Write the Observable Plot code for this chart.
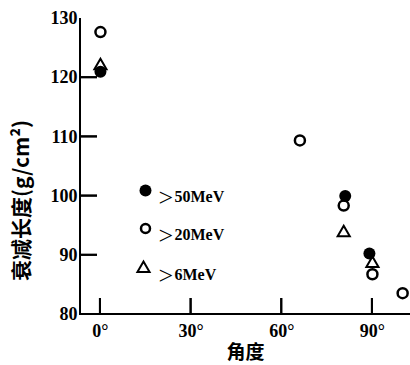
<!DOCTYPE html>
<html><head><meta charset="utf-8">
<script src="https://cdn.jsdelivr.net/npm/d3@7"></script>
<script src="https://cdn.jsdelivr.net/npm/@observablehq/plot@0.6"></script>
<style>body{margin:0;background:#fff}</style>
</head><body><div id="chart"></div>
<script>
// >50 MeV (filled circles)
const angles50 = [0, 81, 89];
const values50 = [121, 100, 90.3];
// >20 MeV (open circles)
const angles20 = [0, 66, 80.5, 90, 100];
const values20 = [127.7, 109.4, 98.4, 86.8, 83.6];
// >6 MeV (open triangles)
const angles6 = [0, 80.5, 90];
const values6 = [122, 93.8, 88.6];

const yTicks = [80, 90, 100, 110, 120, 130];
const yInnerTicks = [90, 100, 110, 120];
const xTicks = [0, 30, 60, 90];
const legendLabels = ["50MeV", "20MeV", "6MeV"];
const yLabel = "衰减长度(g/cm²)";
const xLabel = "角度";

const d50 = angles50.map((a, i) => ({a, v: values50[i]}));
const d20 = angles20.map((a, i) => ({a, v: values20[i]}));
const d6 = angles6.map((a, i) => ({a, v: values6[i]}));

const serif = "Liberation Serif, DejaVu Serif, serif";
const cjk = "Noto Sans CJK SC, sans-serif";

const W = 410, H = 365, ML = 80, MT = 18, MB = 51, MR = 0;
const xDomain = [-6.6, 102.6], yDomain = [80, 130];
const pxX = (xDomain[1] - xDomain[0]) / (W - ML - MR);
const pxY = (yDomain[1] - yDomain[0]) / (H - MT - MB);
const tickEndX = xDomain[0] + 17 * pxX;
const tickEndY = yDomain[0] + 16 * pxY;
const legendY = [172, 210, 250];

const chart = Plot.plot({
  width: W,
  height: H,
  marginLeft: ML,
  marginTop: MT,
  marginBottom: MB,
  marginRight: MR,
  style: "font-family: Liberation Serif, DejaVu Serif, serif; font-size: 18px; font-weight: bold;",
  x: {domain: xDomain, ticks: xTicks, tickSize: 0, tickPadding: 10, tickFormat: d => d + "°", label: null},
  y: {domain: yDomain, ticks: yTicks, tickSize: 0, tickPadding: 3, label: null},
  marks: [
    // axis lines and inner ticks as thin filled rectangles
    Plot.rect([0], {x1: xDomain[0] - pxX, x2: xDomain[0] + pxX, y1: yDomain[0] - pxY, y2: yDomain[1], fill: "black"}),
    Plot.rect([0], {x1: xDomain[0] - pxX, x2: xDomain[1], y1: yDomain[0] - pxY, y2: yDomain[0] + pxY, fill: "black"}),
    Plot.rect(yInnerTicks, {x1: xDomain[0], x2: tickEndX, y1: d => d - pxY, y2: d => d + pxY, fill: "black"}),
    Plot.rect(xTicks, {x1: d => d - pxX, x2: d => d + pxX, y1: yDomain[0], y2: tickEndY, fill: "black"}),
    // titles
    Plot.text([xLabel], {frameAnchor: "bottom", dy: 44, fontSize: 19, fontWeight: "bold", fontFamily: cjk}),
    Plot.text([yLabel], {frameAnchor: "left", textAnchor: "middle", dx: -58, dy: 34, rotate: -90, fontSize: 21, fontWeight: "bold", fontFamily: cjk}),
    // data
    Plot.dot(d6, {x: "a", y: "v", symbol: "triangle", r: 4.5, stroke: "black", strokeWidth: 2, fill: "none"}),
    Plot.dot(d20, {x: "a", y: "v", r: 5, stroke: "black", strokeWidth: 2.5, fill: "none"}),
    Plot.dot(d50, {x: "a", y: "v", r: 6, fill: "black", stroke: "none"}),
    // legend
    Plot.dot([0], {frameAnchor: "top-left", dx: 65, dy: legendY[0], r: 6, fill: "black"}),
    Plot.dot([0], {frameAnchor: "top-left", dx: 65, dy: legendY[1], r: 4.5, stroke: "black", strokeWidth: 2.5, fill: "none"}),
    Plot.dot([0], {frameAnchor: "top-left", dx: 63, dy: legendY[2], symbol: "triangle", r: 4.5, stroke: "black", strokeWidth: 2, fill: "none"}),
    ...legendLabels.map((t, i) => Plot.text([">"], {frameAnchor: "top-left", dx: 78, dy: legendY[i] - 3, textAnchor: "start", fontSize: 26, fontWeight: "normal", fontFamily: serif})),
    ...legendLabels.map((t, i) => Plot.text([t], {frameAnchor: "top-left", dx: 94, dy: legendY[i], textAnchor: "start", fontSize: 16, fontWeight: "bold", fontFamily: serif}))
  ]
});

// Backup: the same axis lines and ticks as SVG lines, positioned with Plot's own scales
const sx = chart.scale("x"), sy = chart.scale("y");
const g = d3.select(chart).append("g").attr("stroke", "black").attr("stroke-width", 2);
const x0 = sx.apply(xDomain[0]), y0 = sy.apply(yDomain[0]);
g.append("line").attr("x1", x0).attr("x2", x0).attr("y1", sy.apply(yDomain[1])).attr("y2", y0 + 1);
g.append("line").attr("x1", x0 - 1).attr("x2", sx.apply(xDomain[1])).attr("y1", y0).attr("y2", y0);
yInnerTicks.forEach(v => g.append("line").attr("x1", x0).attr("x2", x0 + 17).attr("y1", sy.apply(v)).attr("y2", sy.apply(v)));
xTicks.forEach(v => g.append("line").attr("x1", sx.apply(v)).attr("x2", sx.apply(v)).attr("y1", y0).attr("y2", y0 - 16));

document.getElementById("chart").append(chart);
</script></body></html>
